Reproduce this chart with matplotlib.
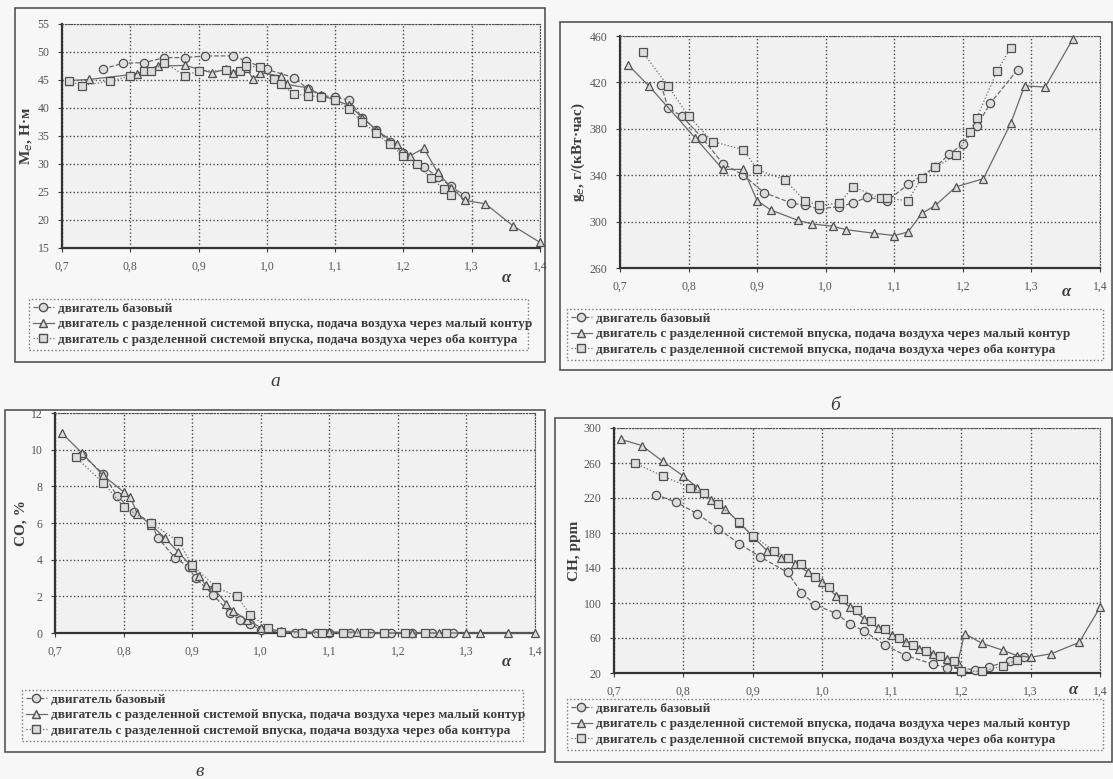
import matplotlib
matplotlib.use("Agg")
import matplotlib.pyplot as plt
from matplotlib.lines import Line2D
from matplotlib.patches import Rectangle

# ---- data: panel а (torque) ----
a_base_x = [0.76, 0.79, 0.82, 0.85, 0.88, 0.91, 0.95, 0.97, 1.00, 1.04, 1.06, 1.08, 1.10,
            1.12, 1.14, 1.16, 1.18, 1.20, 1.23, 1.25, 1.27, 1.29]
a_base_y = [47.0, 48.0, 48.1, 49.0, 49.0, 49.3, 49.3, 48.4, 46.9, 45.4, 43.4, 42.2, 42.0,
            41.4, 38.3, 36.1, 34.0, 31.9, 29.5, 27.7, 26.0, 24.3]
a_small_x = [0.71, 0.74, 0.81, 0.84, 0.88, 0.92, 0.94, 0.95, 0.97, 0.98, 0.99, 1.02, 1.03,
             1.06, 1.08, 1.10, 1.12, 1.14, 1.16, 1.19, 1.21, 1.23, 1.25, 1.27, 1.29, 1.32,
             1.36, 1.40]
a_small_y = [44.9, 45.1, 46.1, 47.5, 47.6, 46.3, 46.9, 46.3, 47.2, 45.1, 46.3, 45.7, 44.2,
             43.6, 42.3, 41.4, 40.5, 38.3, 36.1, 33.5, 31.5, 32.8, 28.5, 25.8, 23.5, 22.9,
             19.0, 16.0]
a_both_x = [0.71, 0.73, 0.77, 0.80, 0.82, 0.83, 0.85, 0.88, 0.90, 0.94, 0.96, 0.97, 0.99,
            1.01, 1.02, 1.04, 1.06, 1.08, 1.10, 1.12, 1.14, 1.16, 1.18, 1.20, 1.22, 1.24,
            1.26, 1.27]
a_both_y = [44.8, 44.0, 44.8, 45.7, 46.6, 46.6, 48.1, 45.8, 46.6, 46.7, 46.6, 47.5, 47.3,
            45.1, 44.2, 42.5, 42.2, 42.0, 41.5, 39.8, 37.5, 35.5, 33.5, 31.5, 30.0, 27.5,
            25.5, 24.5]

# ---- data: panel б (specific fuel consumption) ----
b_base_x = [0.76, 0.77, 0.79, 0.82, 0.85, 0.88, 0.91, 0.95, 0.97, 0.99, 1.02, 1.04, 1.06,
            1.09, 1.12, 1.16, 1.18, 1.20, 1.22, 1.24, 1.28]
b_base_y = [418, 398, 391, 372, 350, 340, 325, 316, 314, 311, 313, 316, 321, 318, 332,
            347, 358, 367, 382, 402, 431]
b_small_x = [0.712, 0.742, 0.81, 0.85, 0.88, 0.90, 0.92, 0.96, 0.98, 1.01, 1.03, 1.07,
             1.10, 1.12, 1.14, 1.16, 1.19, 1.23, 1.27, 1.29, 1.32, 1.36]
b_small_y = [435, 417, 372, 345, 345, 318, 310, 301, 298, 296, 293, 290, 288, 291, 307,
             314, 330, 337, 385, 417, 416, 457]
b_both_x = [0.733, 0.77, 0.80, 0.835, 0.88, 0.90, 0.94, 0.97, 0.99, 1.02, 1.04, 1.08,
            1.09, 1.12, 1.14, 1.16, 1.19, 1.21, 1.22, 1.25, 1.27]
b_both_y = [446, 417, 391, 369, 362, 345, 336, 318, 314, 316, 330, 320, 320, 318, 338,
            347, 357, 377, 389, 430, 450]

# ---- data: panel в (CO) ----
c_base_x = [0.74, 0.77, 0.79, 0.815, 0.84, 0.85, 0.875, 0.895, 0.905, 0.93, 0.955, 0.97,
            0.985, 1.00, 1.03, 1.05, 1.08, 1.10, 1.13, 1.16, 1.19, 1.22, 1.25, 1.28]
c_base_y = [9.7, 8.7, 7.5, 6.6, 6.0, 5.2, 4.1, 3.6, 3.0, 2.1, 1.1, 0.7, 0.5, 0.15, 0.05,
            0.0, 0.0, 0.0, 0.0, 0.0, 0.0, 0.0, 0.0, 0.0]
c_small_x = [0.71, 0.74, 0.77, 0.80, 0.81, 0.82, 0.84, 0.86, 0.88, 0.90, 0.91, 0.92, 0.93,
             0.95, 0.96, 0.98, 1.00, 1.03, 1.06, 1.10, 1.14, 1.18, 1.22, 1.26, 1.30, 1.32,
             1.36, 1.40]
c_small_y = [10.9, 9.8, 8.6, 7.7, 7.4, 6.5, 5.9, 5.2, 4.4, 3.6, 3.1, 2.6, 2.5, 1.6, 1.2,
             0.7, 0.3, 0.1, 0.05, 0.05, 0.05, 0.0, 0.0, 0.0, 0.0, 0.0, 0.0, 0.0]
c_both_x = [0.73, 0.77, 0.80, 0.84, 0.88, 0.90, 0.935, 0.965, 0.985, 1.01, 1.03, 1.06,
            1.09, 1.12, 1.15, 1.18, 1.21, 1.24, 1.27]
c_both_y = [9.6, 8.2, 6.9, 6.0, 5.0, 3.7, 2.5, 2.0, 1.0, 0.3, 0.05, 0.0, 0.0, 0.0, 0.0,
            0.0, 0.0, 0.0, 0.0]

# ---- data: panel г (CH) ----
d_base_x = [0.76, 0.79, 0.82, 0.85, 0.88, 0.91, 0.95, 0.97, 0.99, 1.02, 1.04, 1.06, 1.09,
            1.12, 1.16, 1.18, 1.22, 1.24, 1.27, 1.29]
d_base_y = [224, 215, 202, 185, 168, 153, 135, 112, 98, 88, 76, 68, 52, 40, 30, 26, 24,
            27, 34, 38]
d_small_x = [0.71, 0.74, 0.77, 0.80, 0.82, 0.84, 0.86, 0.88, 0.90, 0.92, 0.94, 0.96, 0.98,
             1.00, 1.02, 1.04, 1.06, 1.08, 1.10, 1.12, 1.14, 1.16, 1.18, 1.195, 1.205,
             1.23, 1.26, 1.28, 1.30, 1.33, 1.37, 1.40]
d_small_y = [287, 280, 262, 245, 232, 218, 208, 192, 176, 160, 152, 145, 135, 124, 108, 95,
             82, 72, 63, 55, 48, 42, 36, 32, 65, 54, 46, 40, 38, 42, 55, 95]
d_both_x = [0.73, 0.77, 0.81, 0.83, 0.85, 0.88, 0.90, 0.93, 0.95, 0.97, 0.99, 1.01, 1.03,
            1.05, 1.07, 1.09, 1.11, 1.13, 1.15, 1.17, 1.19, 1.20, 1.23, 1.26, 1.28]
d_both_y = [260, 245, 232, 226, 213, 193, 177, 160, 152, 145, 130, 118, 105, 92, 80, 70,
            60, 52, 45, 40, 34, 22, 22, 28, 35]

x_ticks = [0.7, 0.8, 0.9, 1.0, 1.1, 1.2, 1.3, 1.4]
x_ticklabels = ["0,7", "0,8", "0,9", "1,0", "1,1", "1,2", "1,3", "1,4"]

legend_labels = [
    "двигатель базовый",
    "двигатель с разделенной системой впуска, подача воздуха через малый контур",
    "двигатель с разделенной системой впуска, подача воздуха через оба контура",
]

SERIF = ["Liberation Serif", "DejaVu Serif"]
INK = "#3c3c3c"
LINE = "#6a6a6a"
FACE = "#dcdcdc"

styles = [
    dict(marker="o", linestyle="--"),
    dict(marker="^", linestyle="-"),
    dict(marker="s", linestyle=":"),
]

fig = plt.figure(figsize=(11.13, 7.79), dpi=100, facecolor="#f7f7f7")


def px_box(x0, y0, x1, y1):
    # pixel box (top-left origin) -> figure fraction rect
    return [x0 / 1113, 1 - y1 / 779, (x1 - x0) / 1113, (y1 - y0) / 779]


def frame(x0, y0, x1, y1):
    l, b, w, h = px_box(x0, y0, x1, y1)
    fig.patches.append(Rectangle((l, b), w, h, transform=fig.transFigure,
                                 fill=False, ec="#555555", lw=1.2))


def panel(rect, series, ylim, yticks, ylabel, leg_rect, alpha_pos):
    ax = fig.add_axes(px_box(*rect))
    ax.set_facecolor("#f1f1f1")
    for (xs, ys), st in zip(series, styles):
        ax.plot(xs, ys, color=LINE, lw=0.9, linestyle=st["linestyle"],
                marker=st["marker"], ms=6, mfc=FACE, mec="#505050", mew=0.9,
                clip_on=False, zorder=3)
    ax.set_xlim(0.7, 1.4)
    ax.set_ylim(*ylim)
    ax.set_xticks(x_ticks)
    ax.set_xticklabels(x_ticklabels)
    ax.set_yticks(yticks)
    ax.grid(True, color="#4a4a4a", linestyle=":", lw=1.0)
    ax.tick_params(labelsize=8.5, colors=INK, length=3, pad=6)
    for lab in ax.get_xticklabels() + ax.get_yticklabels():
        lab.set_family(SERIF)
        lab.set_color("#555555")
    for side in ("left", "bottom"):
        ax.spines[side].set_color("#333333")
        ax.spines[side].set_linewidth(1.6)
    for side in ("top", "right"):
        ax.spines[side].set_color("#555555")
        ax.spines[side].set_linestyle(":")
    ax.set_ylabel(ylabel, family=SERIF, fontsize=11, fontweight="bold", color=INK,
                  labelpad=2)
    ax.text(alpha_pos[0], alpha_pos[1], "α", transform=ax.transAxes, family=SERIF,
            fontsize=12, style="italic", fontweight="bold", color=INK)

    handles = [Line2D([], [], color=LINE, lw=0.9, linestyle=st["linestyle"],
                      marker=st["marker"], ms=6, mfc=FACE, mec="#505050")
               for st in styles]
    l, b, w, h = px_box(*leg_rect)
    leg = fig.legend(handles, legend_labels, loc="upper left",
                     bbox_to_anchor=(l, b, w, h), bbox_transform=fig.transFigure,
                     mode="expand", handlelength=1.6, handletextpad=0.3,
                     borderpad=0.3, labelspacing=0.25, fancybox=False,
                     prop={"family": SERIF, "size": 9.5, "weight": "bold"})
    leg.get_frame().set_edgecolor("#555555")
    leg.get_frame().set_linestyle(":")
    leg.get_frame().set_facecolor("#f7f7f7")
    for t in leg.get_texts():
        t.set_color(INK)
    return ax


panel((62, 24, 540, 248), [(a_base_x, a_base_y), (a_small_x, a_small_y), (a_both_x, a_both_y)],
      (15, 55), [15, 20, 25, 30, 35, 40, 45, 50, 55], r"M$_е$, Н·м",
      (22, 292, 535, 356), (0.92, -0.15))
frame(15, 8, 545, 362)

panel((620, 36, 1100, 268), [(b_base_x, b_base_y), (b_small_x, b_small_y), (b_both_x, b_both_y)],
      (260, 460), [260, 300, 340, 380, 420, 460], r"g$_е$, г/(кВт·час)",
      (560, 302, 1110, 365), (0.92, -0.12))
frame(560, 22, 1112, 370)

panel((55, 413, 535, 633), [(c_base_x, c_base_y), (c_small_x, c_small_y), (c_both_x, c_both_y)],
      (0, 12), [0, 2, 4, 6, 8, 10, 12], "CO, %",
      (15, 683, 530, 750), (0.93, -0.15))
frame(5, 410, 545, 752)

panel((614, 428, 1100, 673), [(d_base_x, d_base_y), (d_small_x, d_small_y), (d_both_x, d_both_y)],
      (20, 300), [20, 60, 100, 140, 180, 220, 260, 300], "CH, ppm",
      (560, 692, 1110, 757), (0.935, -0.085))
frame(555, 418, 1112, 762)

fig.text(275 / 1113, 1 - 382 / 779, "а", family=SERIF, fontsize=14, style="italic",
         color=INK, ha="center", va="center")
fig.text(835 / 1113, 1 - 405 / 779, "б", family=SERIF, fontsize=14, style="italic",
         color=INK, ha="center", va="center")
fig.text(200 / 1113, 1 - 771 / 779, "в", family=SERIF, fontsize=14, style="italic",
         color=INK, ha="center", va="center")

fig.savefig("out.png", dpi=100, facecolor=fig.get_facecolor())
